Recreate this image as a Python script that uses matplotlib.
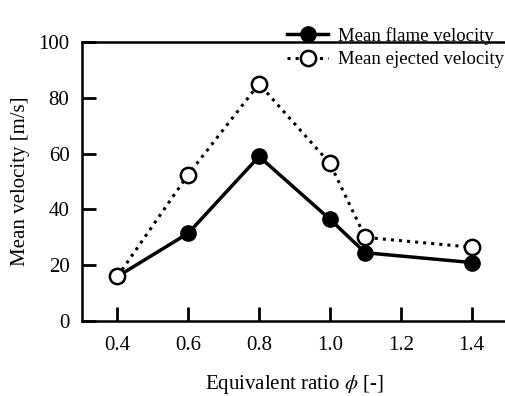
import matplotlib
matplotlib.use('Agg')
import matplotlib.pyplot as plt

plt.rcParams['font.family'] = ['Liberation Serif', 'DejaVu Serif']
plt.rcParams['mathtext.fontset'] = 'stix'

ratio = [0.4, 0.6, 0.8, 1.0, 1.1, 1.4]
flame_velocity = [16, 31.5, 59, 36.5, 24.5, 21]
ejected_velocity = [16, 52.5, 85, 56.5, 30, 26.5]

fig = plt.figure(figsize=(5.06, 3.96), dpi=100)
ax = fig.add_axes([0.162, 0.189, 0.84, 0.705])

ax.plot(ratio, flame_velocity, '-o', color='black', lw=2.5, ms=11,
        mfc='black', mec='black', label='Mean flame velocity', zorder=3)
ax.plot(ratio, ejected_velocity, ':o', color='black', lw=2.2, ms=11,
        mfc='white', mec='black', mew=1.8, label='Mean ejected velocity', zorder=3)

ax.set_xlim(0.3, 1.5)
ax.set_ylim(0, 100)
ax.set_xticks([0.4, 0.6, 0.8, 1.0, 1.2, 1.4])
ax.set_yticks([0, 20, 40, 60, 80, 100])
ax.tick_params(direction='in', length=10, width=2, labelsize=15)
ax.tick_params(axis='x', pad=11)
ax.tick_params(axis='y', pad=9)
for s in ax.spines.values():
    s.set_linewidth(1.8)

ax.set_xlabel(r'Equivalent ratio $\phi$ [-]', fontsize=15, labelpad=13)
ax.set_ylabel('Mean velocity [m/s]', fontsize=15, labelpad=6)

ax.legend(loc='upper right', bbox_to_anchor=(1.01, 1.08), frameon=False,
          fontsize=13.5, handlelength=2.2, handletextpad=0.5, labelspacing=0.32,
          borderaxespad=0)

fig.savefig('out.png', dpi=100)
